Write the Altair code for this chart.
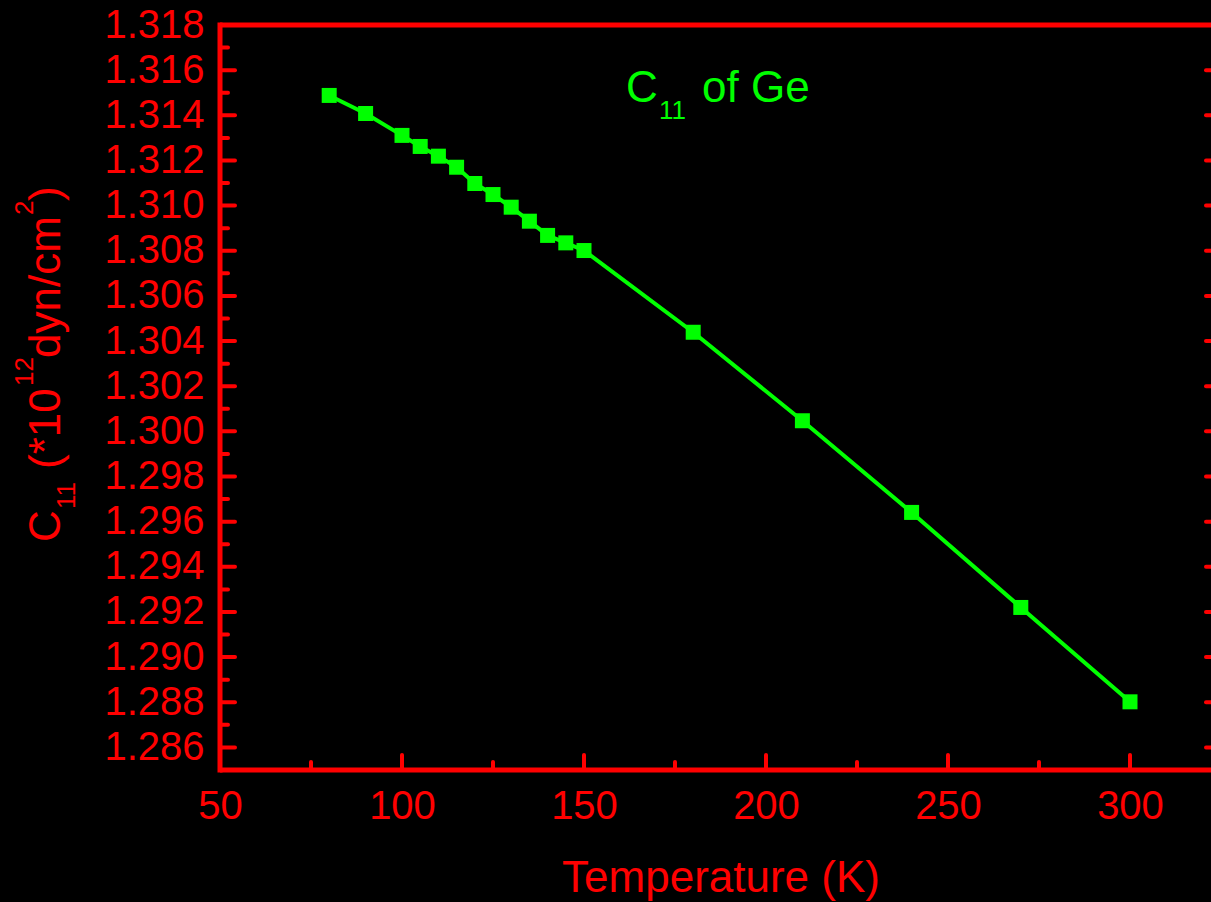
import altair as alt
import pandas as pd

# ---- data ----
temps = [80, 90, 100, 105, 110, 115, 120, 125, 130, 135, 140, 145, 150,
         180, 210, 240, 270, 300]
c11 = [1.31488, 1.31408, 1.31311, 1.31262, 1.31219, 1.31170, 1.31098,
       1.31049, 1.30993, 1.30931, 1.30868, 1.30835, 1.30801,
       1.30439, 1.30047, 1.29641, 1.29220, 1.28802]

x_labels = [50, 100, 150, 200, 250, 300]
x_major = [100, 150, 200, 250, 300]
x_minor = [75, 125, 175, 225, 275]
y_labels = [1.286, 1.288, 1.290, 1.292, 1.294, 1.296, 1.298, 1.300,
            1.302, 1.304, 1.306, 1.308, 1.310, 1.312, 1.314, 1.316, 1.318]
y_major = [1.286, 1.288, 1.290, 1.292, 1.294, 1.296, 1.298, 1.300,
           1.302, 1.304, 1.306, 1.308, 1.310, 1.312, 1.314, 1.316]
y_minor = [1.287, 1.289, 1.291, 1.293, 1.295, 1.297, 1.299, 1.301,
           1.303, 1.305, 1.307, 1.309, 1.311, 1.313, 1.315, 1.317]

x_domain = [50, 325]
y_domain = [1.285, 1.318]

RED = "#FF0000"
GREEN = "#00FF00"
FONT = "Liberation Sans"
W, H = 1001, 745

df = pd.DataFrame({"T": temps, "C": c11})
xs = alt.Scale(domain=x_domain, nice=False, zero=False)
ys = alt.Scale(domain=y_domain, nice=False, zero=False)

xaxis = alt.Axis(values=x_labels, title="Temperature (K)", titleColor=RED,
                 titleFontSize=44, titleFont=FONT, titleFontWeight="normal",
                 titleBaseline="alphabetic", titleY=121,
                 labelColor=RED, labelFontSize=40, labelFont=FONT,
                 labelPadding=16, labelFlush=False, labelOverlap=False,
                 ticks=False, tickSize=0, domain=False, grid=False, format="d")
yaxis = alt.Axis(values=y_labels, title=None, labelColor=RED, labelFontSize=40,
                 labelFont=FONT, labelPadding=16, labelOverlap=False,
                 labelFlush=False, ticks=False, tickSize=0, domain=False,
                 grid=False, format=".3f")

X = lambda f: alt.X(f, scale=xs, axis=xaxis)
Y = lambda f: alt.Y(f, scale=ys, axis=yaxis)

line = alt.Chart(df).mark_line(color=GREEN, strokeWidth=4).encode(
    x=X("T:Q"), y=Y("C:Q"))
pts = alt.Chart(df).mark_point(shape="square", filled=True, size=225,
                               color=GREEN, opacity=1).encode(
    x=X("T:Q"), y=Y("C:Q"))

def xticks(vals, length):
    return alt.Chart(pd.DataFrame({"T": vals})).mark_rule(
        color=RED, strokeWidth=4, strokeCap="round").encode(
        x=X("T:Q"), y=alt.value(H), y2=alt.value(H - length))

def yticks(vals, length, right=False):
    x0 = W if right else 0
    x1 = W - length if right else length
    return alt.Chart(pd.DataFrame({"C": vals})).mark_rule(
        color=RED, strokeWidth=4, strokeCap="round").encode(
        y=Y("C:Q"), x=alt.value(x0), x2=alt.value(x1))

def txt(s, x, y, size, color, angle=0):
    return alt.Chart().mark_text(
        text=s, font=FONT, fontSize=size, color=color, align="left",
        baseline="alphabetic", angle=angle).encode(
        x=alt.value(x), y=alt.value(y))

ytitle = [
    txt("C", -160, 517, 44, RED, 270),
    txt("11", -145, 484, 26, RED, 270),
    txt("(*10", -160, 444, 44, RED, 270),
    txt("12", -187, 361, 26, RED, 270),
    txt("dyn/cm", -160, 333, 44, RED, 270),
    txt("2", -187, 190, 26, RED, 270),
    txt(")", -160, 176, 44, RED, 270),
]
annot = [
    txt("C", 406, 77, 44, GREEN),
    txt("11", 439, 94, 26, GREEN),
    txt("of Ge", 482, 77, 44, GREEN),
]

# frame lines
frame = [
    alt.Chart().mark_rule(color=RED, strokeWidth=5).encode(
        x=alt.value(0), x2=alt.value(W), y=alt.value(0)),
    alt.Chart().mark_rule(color=RED, strokeWidth=5).encode(
        x=alt.value(0), x2=alt.value(W), y=alt.value(H)),
    alt.Chart().mark_rule(color=RED, strokeWidth=5).encode(
        y=alt.value(-2.5), y2=alt.value(H + 2.5), x=alt.value(0)),
    alt.Chart().mark_rule(color=RED, strokeWidth=5).encode(
        y=alt.value(-2.5), y2=alt.value(H + 2.5), x=alt.value(W)),
]

chart = alt.layer(
    *frame,
    xticks(x_major, 15), xticks(x_minor, 8),
    yticks(y_major, 15), yticks(y_minor, 8),
    yticks(y_major, 15, True), yticks(y_minor, 8, True),
    line, pts, *ytitle, *annot
).properties(
    width=W, height=H,
    autosize=alt.AutoSizeParams(type="none"),
    padding={"left": 220, "top": 25, "right": -10, "bottom": 132},
    background="#000000",
).configure(font=FONT).configure_view(stroke=None)

chart.save("out.html", embed_options={"renderer": "svg", "actions": False})
